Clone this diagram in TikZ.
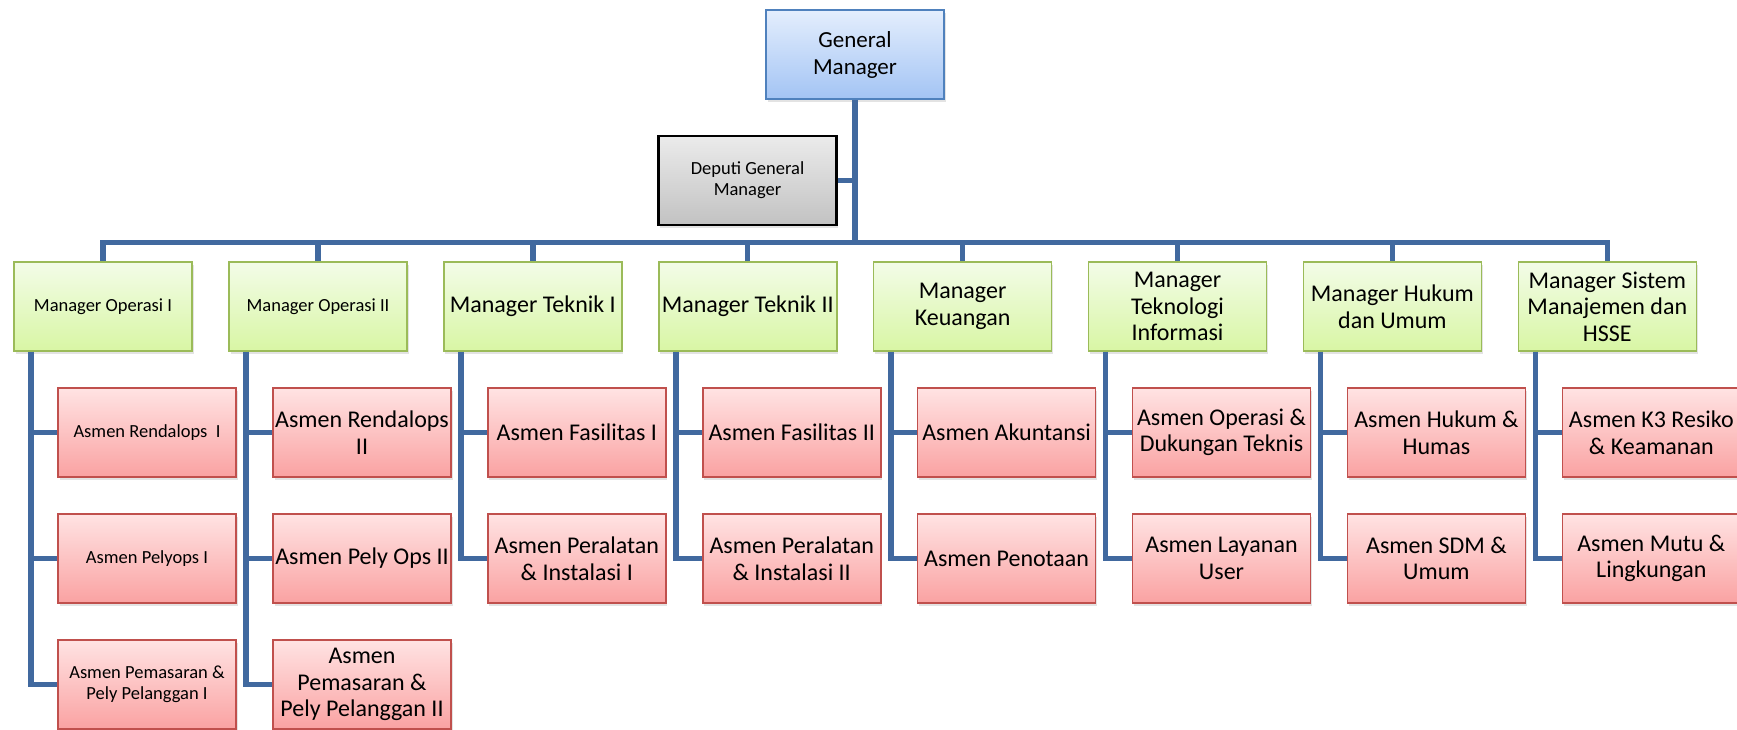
\documentclass[tikz,border=0pt]{standalone}
\usepackage{fontspec}
\setmainfont{Carlito}
\usetikzlibrary{shadows}
\definecolor{wirec}{HTML}{41699F}
\definecolor{gmline}{HTML}{4F81BD}
\definecolor{gmtop}{HTML}{E4EEFD}
\definecolor{gmbot}{HTML}{A3C4F4}
\definecolor{mgline}{HTML}{9BBB59}
\definecolor{mgtop}{HTML}{F3FCE8}
\definecolor{mgbot}{HTML}{D8F6A4}
\definecolor{asline}{HTML}{C0504D}
\definecolor{astop}{HTML}{FFE3E3}
\definecolor{asbot}{HTML}{FAA2A2}
\definecolor{dptop}{HTML}{EBEBEB}
\definecolor{dpbot}{HTML}{C2C2C2}
\tikzset{
  box/.style={draw, line width=1.6pt, minimum width=178pt, minimum height=89pt,
    inner sep=0pt, align=center,
    drop shadow={shadow xshift=1.5pt, shadow yshift=-3pt, opacity=0.22}},
  smallf/.style={font=\fontsize{18.5}{21}\selectfont},
  largef/.style={font=\fontsize{24}{26.5}\selectfont},
  gmbox/.style={box, draw=gmline, top color=gmtop, bottom color=gmbot,
    font=\fontsize{23}{27}\selectfont},
  dpbox/.style={box, draw=black, line width=2.4pt, top color=dptop, bottom color=dpbot, smallf},
  mgbox/.style={box, draw=mgline, top color=mgtop, bottom color=mgbot},
  asbox/.style={box, draw=asline, top color=astop, bottom color=asbot},
  wire/.style={draw=wirec, line width=5.5pt}
}
\begin{document}
\begin{tikzpicture}[x=1pt,y=-1pt]
\fill[white] (0,0) rectangle (1737,729);
\clip (0,0) rectangle (1737,729);

% top level
\node[gmbox] (gm) at (855,54.5) {General\\Manager};
\node[dpbox] (dp) at (747.5,180.5) {Deputi General\\Manager};

% managers
\node[mgbox,smallf] (m0) at (103,306.5)    {Manager Operasi I};
\node[mgbox,smallf] (m1) at (318,306.5)    {Manager Operasi II};
\node[mgbox,largef] (m2) at (532.8,306.5)  {Manager Teknik I};
\node[mgbox,largef] (m3) at (747.7,306.5)  {Manager Teknik II};
\node[mgbox,largef] (m4) at (962.6,306.5)  {Manager\\Keuangan};
\node[mgbox,largef] (m5) at (1177.5,306.5) {Manager\\Teknologi\\Informasi};
\node[mgbox,largef] (m6) at (1392.4,306.5) {Manager Hukum\\dan Umum};
\node[mgbox,largef] (m7) at (1607.3,306.5) {Manager Sistem\\Manajemen dan\\HSSE};

% asmen column 0
\node[asbox,smallf] (a0a) at (147,432.5) {Asmen Rendalops~~I};
\node[asbox,smallf] (a0b) at (147,558.5) {Asmen Pelyops I};
\node[asbox,smallf] (a0c) at (147,684.5) {Asmen Pemasaran \&\\Pely Pelanggan I};
% column 1
\node[asbox,largef] (a1a) at (362,432.5) {Asmen Rendalops\\II};
\node[asbox,largef] (a1b) at (362,558.5) {Asmen Pely Ops II};
\node[asbox,largef] (a1c) at (362,684.5) {Asmen\\Pemasaran \&\\Pely Pelanggan II};
% column 2
\node[asbox,largef] (a2a) at (576.8,432.5) {Asmen Fasilitas I};
\node[asbox,largef] (a2b) at (576.8,558.5) {Asmen Peralatan\\\& Instalasi I};
% column 3
\node[asbox,largef] (a3a) at (791.7,432.5) {Asmen Fasilitas II};
\node[asbox,largef] (a3b) at (791.7,558.5) {Asmen Peralatan\\\& Instalasi II};
% column 4
\node[asbox,largef] (a4a) at (1006.6,432.5) {Asmen Akuntansi};
\node[asbox,largef] (a4b) at (1006.6,558.5) {Asmen Penotaan};
% column 5
\node[asbox,largef] (a5a) at (1221.5,432.5) {Asmen Operasi \&\\Dukungan Teknis};
\node[asbox,largef] (a5b) at (1221.5,558.5) {Asmen Layanan\\User};
% column 6
\node[asbox,largef] (a6a) at (1436.4,432.5) {Asmen Hukum \&\\Humas};
\node[asbox,largef] (a6b) at (1436.4,558.5) {Asmen SDM \&\\Umum};
% column 7
\node[asbox,largef] (a7a) at (1651.3,432.5) {Asmen K3 Resiko\\\& Keamanan};
\node[asbox,largef] (a7b) at (1651.3,558.5) {Asmen Mutu \&\\Lingkungan};

% connectors
\coordinate (busL) at (103,242.5);
\coordinate (busR) at (1607.3,242.5);
\draw[wire] (gm.south) -- (gm.south |- busL);
\draw[wire] (dp.east) -- (dp.east -| gm.south);
\draw[wire] ([xshift=-2.75pt]busL) -- ([xshift=2.75pt]busR);
\foreach \m in {m0,m1,m2,m3,m4,m5,m6,m7}{
  \draw[wire] (\m.north |- busL) -- (\m.north);
}
% spines
\foreach \m/\a in {m0/a0a,m0/a0b,m0/a0c,m1/a1a,m1/a1b,m1/a1c,m2/a2a,m2/a2b,m3/a3a,m3/a3b,m4/a4a,m4/a4b,m5/a5a,m5/a5b,m6/a6a,m6/a6b,m7/a7a,m7/a7b}{
  \draw[wire] ([xshift=18pt]\m.south west) |- (\a.west);
}
\end{tikzpicture}
\end{document}
